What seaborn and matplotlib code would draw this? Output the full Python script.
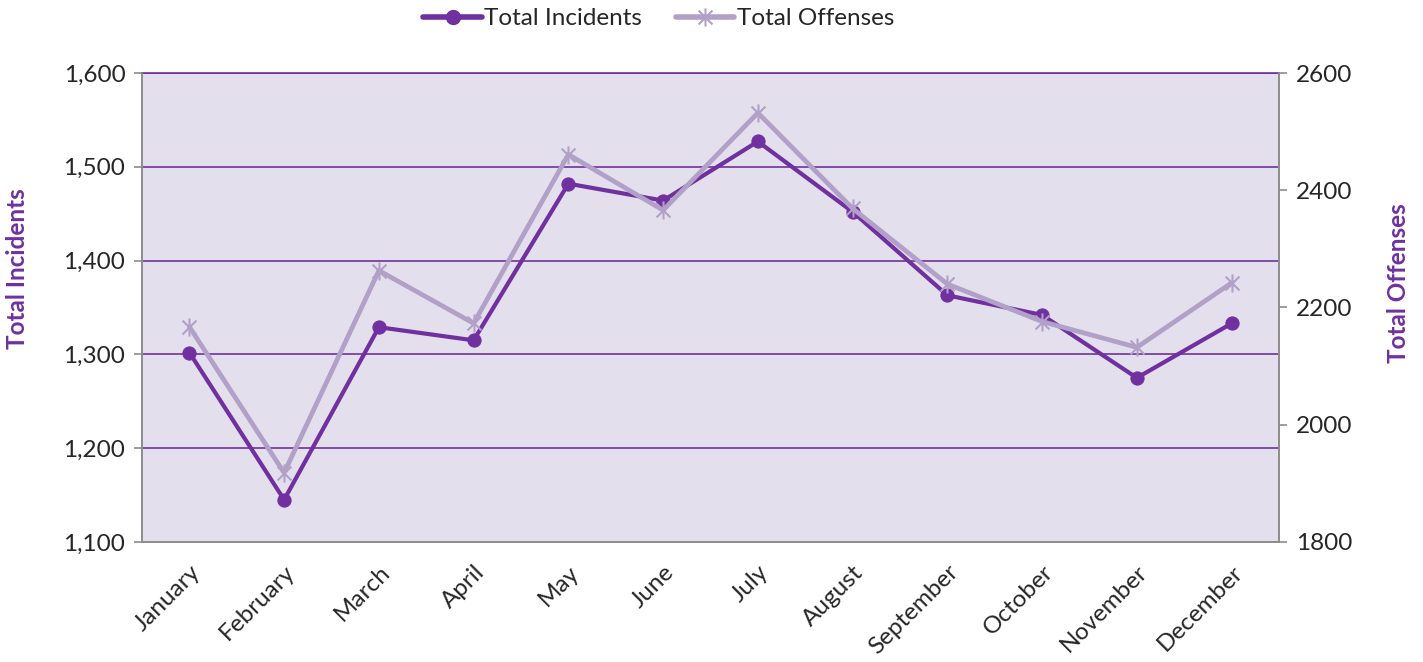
import numpy as np
import pandas as pd
import seaborn as sns
import matplotlib.pyplot as plt
from matplotlib.path import Path
from matplotlib.lines import Line2D
from matplotlib.ticker import FuncFormatter

months = ["January", "February", "March", "April", "May", "June",
          "July", "August", "September", "October", "November", "December"]
incidents = [1302, 1145, 1329, 1315, 1482, 1464, 1527, 1452, 1363, 1342, 1275, 1333]
offenses = [2167, 1918, 2263, 2173, 2461, 2366, 2532, 2369, 2240, 2176, 2132, 2242]

left_ticks = [1100, 1200, 1300, 1400, 1500, 1600]
right_ticks = [1800, 2000, 2200, 2400, 2600]

purple = "#7030A0"
lilac = "#B1A0C7"
bg = "#E4DFEC"
grey = "#8C8C8C"

df = pd.DataFrame({"Month": months, "Incidents": incidents, "Offenses": offenses})

sns.set_style("white")
plt.rcParams["font.family"] = ["Lato", "DejaVu Sans"]

# Excel-style star marker: X plus a vertical bar
star = Path([(-1, -1), (1, 1), (-1, 1), (1, -1), (0, -1.3), (0, 1.3)],
            [Path.MOVETO, Path.LINETO, Path.MOVETO, Path.LINETO, Path.MOVETO, Path.LINETO])

fig = plt.figure(figsize=(14.23, 6.62), dpi=100)
ax = fig.add_axes([0.0998, 0.1813, 0.799, 0.7084])
ax.set_facecolor(bg)

sns.lineplot(data=df, x="Month", y="Incidents", ax=ax, color=purple, linewidth=3,
             marker="o", markersize=9.5, markeredgecolor=purple, sort=False)

ax2 = ax.twinx()
sns.lineplot(data=df, x="Month", y="Offenses", ax=ax2, color=lilac, linewidth=3.4,
             marker=star, markersize=13, markeredgecolor=lilac, markeredgewidth=1.5,
             markerfacecolor="none", sort=False)

ax.set_xlim(-0.5, 11.5)
ax.set_ylim(1100, 1600)
ax.set_yticks(left_ticks)
ax.yaxis.set_major_formatter(FuncFormatter(lambda v, p: f"{int(v):,}"))
ax2.set_ylim(1800, 2600)
ax2.set_yticks(right_ticks)

ax.grid(axis="y", color=purple, linewidth=1.2)
ax.grid(axis="x", visible=False)
ax.set_axisbelow(True)

for a in (ax, ax2):
    for s in a.spines.values():
        s.set_color(grey)
        s.set_linewidth(1.2)
ax.spines["top"].set_color(purple)
ax2.spines["top"].set_visible(False)

ax.set_xticks(range(12))
ax.set_xticklabels(months, rotation=45, ha="right", rotation_mode="anchor", fontsize=17.5)
ax.set_xticks(np.arange(-0.5, 12, 1), minor=True)
ax.tick_params(axis="x", which="major", length=0, pad=14)
ax.tick_params(axis="x", which="minor", length=6, color=grey, width=1.2)
ax.tick_params(axis="y", length=6, color=grey, width=1.2, labelsize=17.5, left=True, pad=6)
ax2.tick_params(axis="y", length=6, color=grey, width=1.2, labelsize=17.5, right=True, pad=6)

ax.set_xlabel("")
ax.set_ylabel("Total Incidents", color=purple, fontsize=17.5, fontweight="bold")
ax2.set_ylabel("Total Offenses", color=purple, fontsize=17.5, fontweight="bold")
ax.yaxis.set_label_coords(-0.099, 0.583)
ax2.yaxis.set_label_coords(1.095, 0.552)

handles = [Line2D([], [], color=purple, linewidth=4, marker="o", markersize=10),
           Line2D([], [], color=lilac, linewidth=4, marker=star, markersize=13,
                  markerfacecolor="none", markeredgewidth=1.5)]
fig.legend(handles, ["Total Incidents", "Total Offenses"], loc="center",
           bbox_to_anchor=(0.463, 0.972), ncol=2, frameon=False, fontsize=17.5,
           handlelength=2.4, handletextpad=0.1, columnspacing=1.4)

fig.savefig("out.png", dpi=100)
